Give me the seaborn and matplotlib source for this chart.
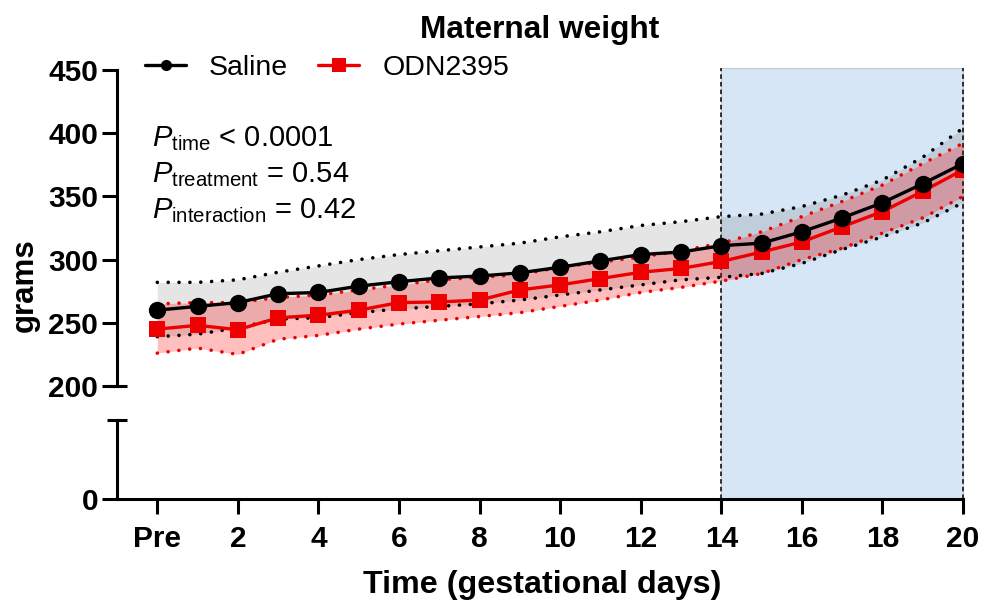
import numpy as np
import pandas as pd
import matplotlib
matplotlib.use("Agg")
import matplotlib.pyplot as plt
import matplotlib.transforms as mtransforms
from matplotlib.patches import Rectangle
from matplotlib.lines import Line2D
import seaborn as sns

# ---------------- data ----------------
days = list(range(0, 21))  # 0 = "Pre"
saline_mean = [260, 263, 266, 273, 274, 279, 282.5, 285.5, 287, 289.5, 294, 299, 304, 306, 311, 313, 322, 333, 345, 360, 376]
saline_upper = [282, 282, 284, 290, 295, 300, 304, 307, 310, 313, 318, 322, 327, 330, 334, 336, 342, 351, 363, 381, 404]
saline_lower = [239, 241, 246, 253, 254, 258, 261, 263, 265, 268, 272, 276, 280, 284, 286, 289, 297, 308, 318, 329, 345]
odn_mean = [245, 248, 244.5, 254, 256, 260, 266, 266.5, 268, 276, 280, 285, 290, 293, 298.5, 306, 314, 326, 338, 354, 371]
odn_upper = [265, 266, 266, 270, 272, 276, 280, 284, 286, 288, 294, 298, 302, 307, 313, 322, 334, 346, 359, 376, 392]
odn_lower = [226, 230, 225, 237, 240, 245, 249, 252, 255, 258, 263, 268, 274, 278, 283, 289, 300, 309, 321, 333, 350]
xtick_pos = list(range(0, 21, 2))
xtick_labels = ["Pre"] + [str(d) for d in range(2, 21, 2)]
yticks_top = [200, 250, 300, 350, 400, 450]
groups = ["Saline", "ODN2395"]

df = pd.DataFrame({
    "day": days * 2,
    "mean": saline_mean + odn_mean,
    "upper": saline_upper + odn_upper,
    "lower": saline_lower + odn_lower,
    "group": ["Saline"] * len(days) + ["ODN2395"] * len(days),
})

# ---------------- style ----------------
sns.set_style("white")
plt.rcParams["font.family"] = ["Liberation Sans", "DejaVu Sans"]
plt.rcParams["mathtext.fontset"] = "custom"
plt.rcParams["mathtext.rm"] = "Liberation Sans"
plt.rcParams["mathtext.it"] = "Liberation Sans:italic"
plt.rcParams["mathtext.bf"] = "Liberation Sans:bold"
for k in ("text.color", "axes.labelcolor", "xtick.color", "ytick.color", "axes.edgecolor"):
    plt.rcParams[k] = "black"

BLACK = "#000000"
RED = "#ee0000"
BLUE = "#d6e6f6"
SPW = 2.2

fig = plt.figure(figsize=(9.84, 6.07), dpi=100)
W, H = 984.0, 607.0
left = 117 / W
width = (963 - 117) / W
ax_top = fig.add_axes([left, (H - 386) / H, width, 316 / H])
ax_bot = fig.add_axes([left, (H - 499) / H, width, 79 / H])
for ax in (ax_top, ax_bot):
    ax.set_facecolor("none")
    ax.set_xlim(-1, 20)

ax_top.set_ylim(200, 450)
ax_bot.set_ylim(0, 62.5)

# shaded late-gestation window spanning both axes segments
blend = mtransforms.blended_transform_factory(ax_top.transData, fig.transFigure)
y0f = (H - 499) / H
y1f = (H - 68) / H
rect = Rectangle((14, y0f), 6, y1f - y0f, transform=blend, facecolor=BLUE,
                 edgecolor="#c8c8c8", linewidth=0.8, zorder=0, clip_on=False)
ax_top.add_patch(rect)
for xv in (14, 20):
    ax_top.add_line(Line2D([xv, xv], [y0f, y1f], transform=blend, color="black",
                           linestyle=(0, (3, 2)), linewidth=1.1, zorder=0.5, clip_on=False))

# bands
sal = df[df.group == "Saline"]
odn = df[df.group == "ODN2395"]
ax_top.fill_between(sal["day"], sal["lower"], sal["upper"], color="black", alpha=0.10, linewidth=0, zorder=1)
ax_top.fill_between(odn["day"], odn["lower"], odn["upper"], color="red", alpha=0.25, linewidth=0, zorder=1.1)

dot = (0, (0.01, 3.0))
for sub, col, z in ((odn, RED, 2), (sal, BLACK, 2.1)):
    for colname in ("upper", "lower"):
        sns.lineplot(data=sub, x="day", y=colname, ax=ax_top, color=col, linewidth=2.6,
                     linestyle=dot, dash_capstyle="round", zorder=z, legend=False)

sns.lineplot(data=odn, x="day", y="mean", ax=ax_top, color=RED, linewidth=2.4,
             marker="s", markersize=11.5, markeredgewidth=0, zorder=3, legend=False)
sns.lineplot(data=sal, x="day", y="mean", ax=ax_top, color=BLACK, linewidth=2.4,
             marker="o", markersize=12.5, markeredgewidth=0, zorder=4, legend=False)

# axes cosmetics
for ax in (ax_top, ax_bot):
    ax.set_xlabel("")
    ax.set_ylabel("")
    for s in ("top", "right"):
        ax.spines[s].set_visible(False)
    ax.spines["left"].set_linewidth(SPW)
    ax.spines["left"].set_color("black")
ax_top.spines["bottom"].set_visible(False)
ax_bot.spines["bottom"].set_linewidth(SPW)
ax_bot.spines["bottom"].set_color("black")

ax_top.set_xticks([])
ax_top.set_yticks(yticks_top)
ax_top.set_yticklabels([str(v) for v in yticks_top])
ax_bot.set_yticks([0])
ax_bot.set_yticklabels(["0"])
ax_bot.set_xticks(xtick_pos)
ax_bot.set_xticklabels(xtick_labels)

for ax in (ax_top, ax_bot):
    ax.tick_params(axis="both", direction="out", length=10.5, width=SPW, color="black",
                   labelcolor="black", labelsize=21.5, pad=3, left=True, bottom=True)
    for lab in ax.get_xticklabels() + ax.get_yticklabels():
        lab.set_fontweight("bold")
ax_bot.tick_params(axis="x", pad=8)

# break caps
ax_top.plot([0], [0], transform=ax_top.transAxes, marker="_", markersize=14.5,
            markeredgewidth=SPW, color="black", clip_on=False, zorder=6)
ax_bot.plot([0], [1], transform=ax_bot.transAxes, marker="_", markersize=14.5,
            markeredgewidth=SPW, color="black", clip_on=False, zorder=6)

# titles / labels
fig.text(540 / W, 1 - 30 / H, "Maternal weight", ha="center", va="center",
         fontsize=22.8, fontweight="bold", color="black")
fig.text(542 / W, 1 - 585 / H, "Time (gestational days)", ha="center", va="center",
         fontsize=23.2, fontweight="bold", color="black")
fig.text(25 / W, 1 - 285 / H, "grams", ha="center", va="center", rotation=90,
         fontsize=22.5, fontweight="bold", color="black")

# statistics annotation
ptxt = [r"$\mathit{P}_{\mathrm{time}}$ < 0.0001",
        r"$\mathit{P}_{\mathrm{treatment}}$ = 0.54",
        r"$\mathit{P}_{\mathrm{interaction}}$ = 0.42"]
for i, t in enumerate(ptxt):
    fig.text(152 / W, 1 - (146 + 36 * i) / H, t, ha="left", va="baseline",
             fontsize=21, color="black")

# legend
handles = [Line2D([], [], color=BLACK, linewidth=2.4, marker="o", markersize=8, markeredgewidth=0),
           Line2D([], [], color=RED, linewidth=2.4, marker="s", markersize=9.5, markeredgewidth=0)]
leg = fig.legend(handles, groups, loc="center left", bbox_to_anchor=(145 / W, 1 - 68 / H),
                 ncol=2, frameon=False, fontsize=20.5, handlelength=1.45, handletextpad=0.8,
                 columnspacing=1.05, borderpad=0, borderaxespad=0)
for t in leg.get_texts():
    t.set_color("black")

fig.savefig("out.png", dpi=100)
